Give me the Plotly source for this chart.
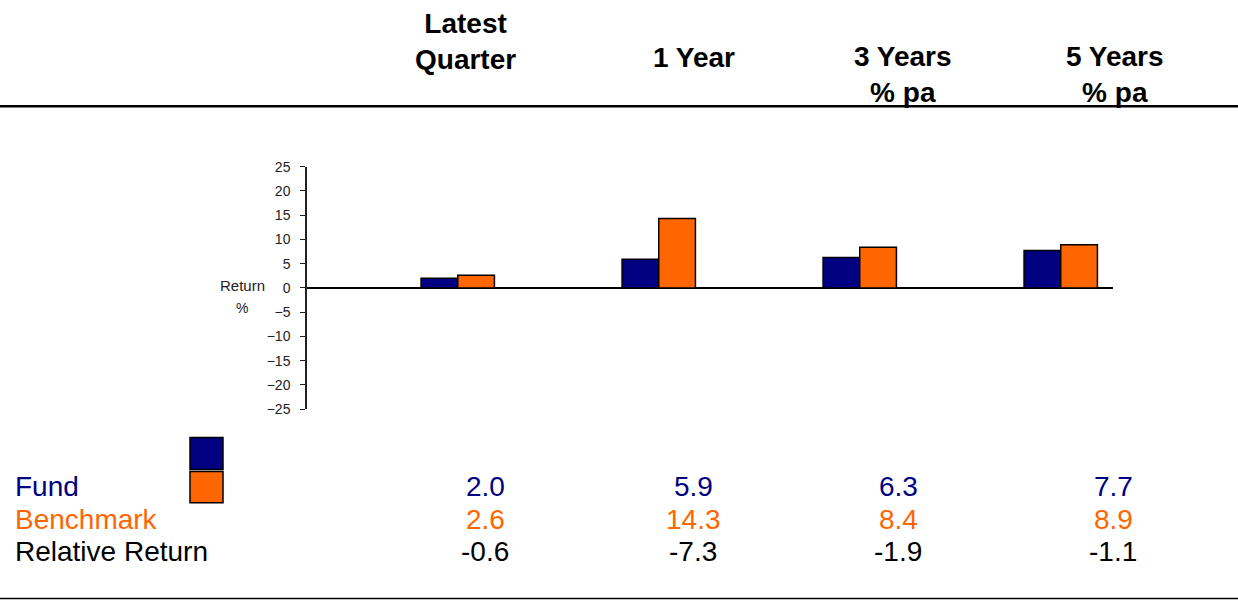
import plotly.graph_objects as go

# ---- data ----
periods = ["Latest<br>Quarter", "1 Year", "3 Years<br>% pa", "5 Years<br>% pa"]
fund = [2.0, 5.9, 6.3, 7.7]
benchmark = [2.6, 14.3, 8.4, 8.9]
relative = [-0.6, -7.3, -1.9, -1.1]
row_labels = ["Fund", "Benchmark", "Relative Return"]

NAVY = "#000080"
ORANGE = "#FF6600"
W, H = 1238, 609
FONT = "Liberation Sans, Arial, sans-serif"

def px_x(x):
    return x / W

def px_y(y):
    return 1 - y / H

idx = list(range(len(periods)))

fig = go.Figure()
fig.add_trace(go.Bar(x=idx, y=fund, name="Fund", marker=dict(color=NAVY, line=dict(color="black", width=1.5))))
fig.add_trace(go.Bar(x=idx, y=benchmark, name="Benchmark", marker=dict(color=ORANGE, line=dict(color="black", width=1.5))))

fig.update_layout(
    width=W, height=H,
    margin=dict(l=0, r=0, t=0, b=0),
    paper_bgcolor="white", plot_bgcolor="white",
    barmode="group", bargap=0.635, bargroupgap=0,
    showlegend=False,
    font=dict(family=FONT, color="black"),
    xaxis=dict(domain=[px_x(307), px_x(1113)], range=[-0.75, 3.26],
               showticklabels=False, showgrid=False, zeroline=False, showline=False, ticks=""),
    yaxis=dict(domain=[px_y(412), px_y(163)], range=[-25, 25], dtick=5,
               ticks="outside", ticklen=5, tickwidth=1.2, tickcolor="#222",
               showline=True, linecolor="#222", linewidth=1.5,
               showgrid=False, zeroline=True, zerolinecolor="black", zerolinewidth=1.5,
               ticklabelstandoff=7,
               tickfont=dict(family=FONT, size=14, color="#222")),
)

# header
head_x = [465, 694, 903, 1115]
head_y = [34, 51, 68, 68]
for t, x, y in zip(periods, head_x, head_y):
    fig.add_annotation(text="<b>" + t + "</b>", x=px_x(x), y=px_y(y), xref="paper", yref="paper",
                       showarrow=False, xanchor="center", yanchor="middle",
                       font=dict(family=FONT, size=28, color="black"))

# lines
fig.add_shape(type="line", xref="paper", yref="paper", x0=0, x1=1, y0=px_y(101), y1=px_y(101),
              line=dict(color="black", width=2.5))
fig.add_shape(type="line", xref="paper", yref="paper", x0=0, x1=1, y0=px_y(606.5), y1=px_y(606.5),
              line=dict(color="black", width=1.5))

# axis title
fig.add_annotation(text="Return", x=px_x(242), y=px_y(285), xref="paper", yref="paper", showarrow=False,
                   xanchor="center", yanchor="middle",
                   font=dict(family=FONT, size=15, color="#222"))
fig.add_annotation(text="%", x=px_x(242), y=px_y(308), xref="paper", yref="paper", showarrow=False,
                   xanchor="center", yanchor="middle",
                   font=dict(family=FONT, size=14, color="#222"))

# legend keys
fig.add_shape(type="rect", xref="paper", yref="paper", x0=px_x(190), x1=px_x(223), y0=px_y(474), y1=px_y(441),
              fillcolor=NAVY, line=dict(color="black", width=1.5))
fig.add_shape(type="rect", xref="paper", yref="paper", x0=px_x(190), x1=px_x(223), y0=px_y(508), y1=px_y(476),
              fillcolor=ORANGE, line=dict(color="black", width=1.5))

# table
row_y = [491, 525, 558]
row_colors = [NAVY, ORANGE, "black"]
row_vals = [fund, benchmark, relative]
val_x = [485, 693, 898, 1113]
for lab, y, c, vals in zip(row_labels, row_y, row_colors, row_vals):
    fig.add_annotation(text=lab, x=px_x(13), y=px_y(y), xref="paper", yref="paper", showarrow=False,
                       xanchor="left", yanchor="middle", font=dict(family=FONT, size=28, color=c))
    for v, x in zip(vals, val_x):
        fig.add_annotation(text=f"{v:.1f}", x=px_x(x), y=px_y(y), xref="paper", yref="paper", showarrow=False,
                           xanchor="center", yanchor="middle", font=dict(family=FONT, size=28, color=c))

post = ("document.body.style.margin='0';document.body.style.padding='0';"
        "document.body.style.overflow='hidden';document.documentElement.style.overflow='hidden';"
        "var gd=document.getElementById('{plot_id}');gd.style.position='fixed';"
        "gd.style.top='0px';gd.style.left='0px';")
fig.write_html("out.html", post_script=post, config={"displayModeBar": False})
